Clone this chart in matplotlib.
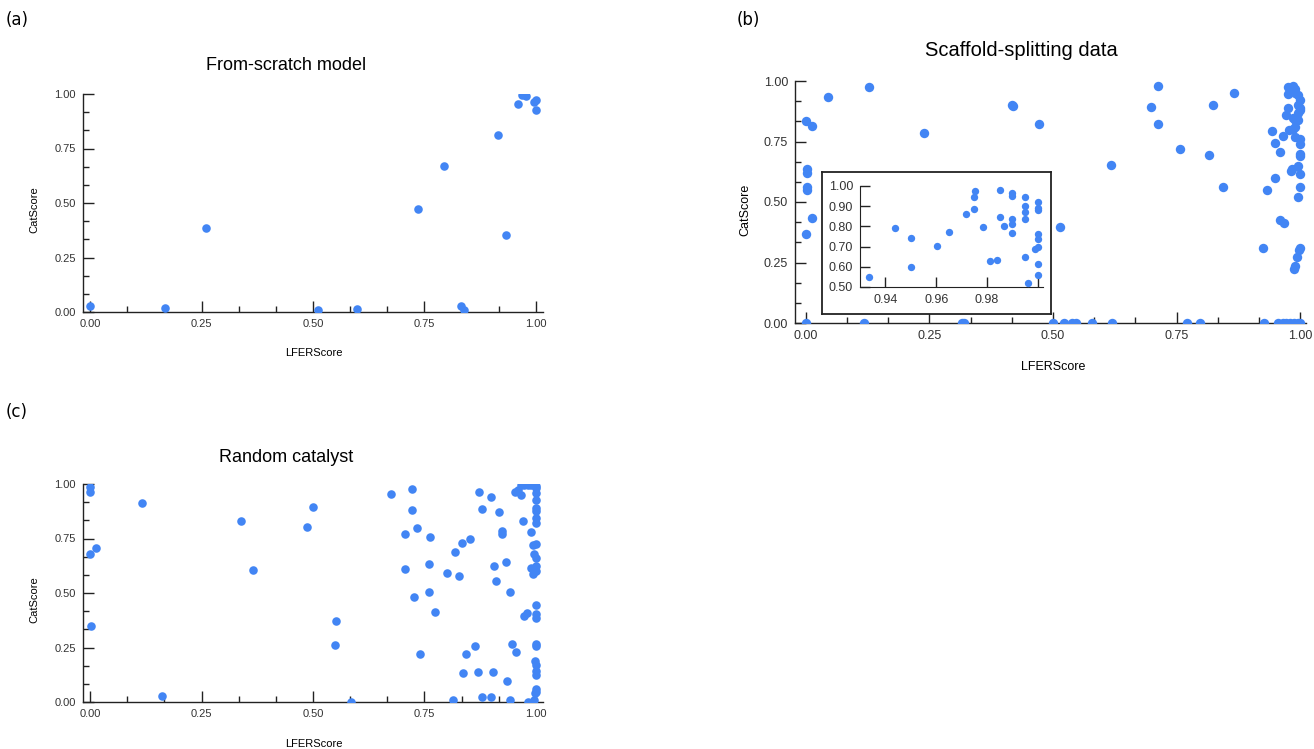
import numpy as np
import matplotlib
matplotlib.use("Agg")
import matplotlib.pyplot as plt
from matplotlib.ticker import MultipleLocator

W, H = 1314, 749
BLUE = "#4285f4"

# (a) From-scratch model
a_lfer = [0.0, 0.167, 0.259, 0.512, 0.599, 0.735, 0.795, 0.833, 0.839,
          0.915, 0.933, 0.961, 0.969, 0.977, 0.995, 1.0, 1.0]
a_cat = [0.029, 0.020, 0.385, 0.009, 0.012, 0.472, 0.671, 0.028, 0.011,
         0.813, 0.353, 0.956, 0.995, 0.990, 0.963, 0.974, 0.927]

# (b) Scaffold-splitting data, points inside the zoomed window
b_zoom_lfer = [0.9336, 0.9437, 0.9501, 0.9501, 0.9603, 0.965, 0.9716, 0.9749,
               0.975, 0.9753, 0.9783, 0.981, 0.9838, 0.985, 0.985, 0.9865,
               0.9897, 0.9898, 0.9898, 0.9898, 0.9897, 0.995, 0.995, 0.995,
               0.995, 0.995, 0.996, 0.999, 1.0, 1.0, 1.0, 1.0, 1.0, 1.0, 1.0, 1.0]
b_zoom_cat = [0.551, 0.793, 0.745, 0.599, 0.705, 0.773, 0.861, 0.887,
              0.947, 0.977, 0.796, 0.629, 0.636, 0.980, 0.848, 0.803,
              0.967, 0.950, 0.838, 0.810, 0.768, 0.944, 0.902, 0.869,
              0.839, 0.649, 0.521, 0.690, 0.922, 0.889, 0.881, 0.762, 0.740,
              0.699, 0.616, 0.561]
# (b) remaining points
b_rest_lfer = [0.0, 0.013, 0.0015, 0.0015, 0.0015, 0.0015, 0.013, 0.0, 0.0,
               0.045, 0.127, 0.118, 0.239, 0.316, 0.320, 0.420, 0.418, 0.471,
               0.501, 0.514, 0.522, 0.539, 0.546, 0.578, 0.619, 0.617, 0.698,
               0.712, 0.712, 0.758, 0.772, 0.798, 0.815, 0.824, 0.845, 0.866,
               0.926, 0.928, 0.960, 0.968, 1.0, 0.998, 0.994, 0.990, 0.987,
               0.955, 0.965, 0.972, 0.980, 0.987, 0.995, 1.0]
b_rest_cat = [0.836, 0.814, 0.636, 0.619, 0.560, 0.550, 0.432, 0.367, 0.0,
              0.933, 0.975, 0.0, 0.787, 0.0, 0.0, 0.897, 0.900, 0.823,
              0.0, 0.395, 0.0, 0.0, 0.0, 0.0, 0.0, 0.651, 0.894,
              0.979, 0.823, 0.721, 0.0, 0.0, 0.693, 0.901, 0.563, 0.950,
              0.309, 0.0, 0.424, 0.415, 0.309, 0.301, 0.271, 0.234, 0.223,
              0.0, 0.0, 0.0, 0.0, 0.0, 0.0, 0.0]

# (c) Random catalyst
c_lfer = [0.0, 0.0, 0.0, 0.014, 0.003, 0.117, 0.161, 0.339, 0.365, 0.486,
          0.501, 0.549, 0.552, 0.586, 0.674, 0.707, 0.707, 0.722, 0.721, 0.733,
          0.726, 0.740, 0.763, 0.760, 0.760, 0.774, 0.800, 0.815, 0.819, 0.828,
          0.835, 0.836, 0.844, 0.853, 0.863, 0.871, 0.873, 0.879, 0.880, 0.899,
          0.900, 0.903, 0.906, 0.911, 0.918, 0.923, 0.923, 0.934, 0.935, 0.942,
          0.943, 0.946, 0.955, 0.953, 0.959, 0.966, 0.972, 0.974, 0.981, 0.983,
          0.990, 0.990, 0.994, 0.994, 0.996, 0.996, 0.998, 0.998,
          1.0, 1.0, 1.0, 1.0, 1.0, 1.0, 1.0, 1.0, 1.0, 1.0,
          1.0, 1.0, 1.0, 1.0, 1.0, 1.0, 1.0, 1.0, 1.0,
          1.0, 1.0, 1.0,
          0.966, 0.974, 0.982, 0.990, 0.996]
c_cat = [0.986, 0.963, 0.680, 0.708, 0.349, 0.913, 0.029, 0.829, 0.606, 0.801,
         0.894, 0.261, 0.373, 0.0, 0.956, 0.771, 0.610, 0.977, 0.881, 0.800,
         0.480, 0.220, 0.757, 0.635, 0.503, 0.414, 0.593, 0.009, 0.687, 0.580,
         0.728, 0.131, 0.219, 0.748, 0.258, 0.139, 0.962, 0.885, 0.024, 0.024,
         0.942, 0.138, 0.622, 0.554, 0.870, 0.786, 0.771, 0.641, 0.095, 0.505,
         0.009, 0.265, 0.229, 0.962, 0.974, 0.951, 0.832, 0.393, 0.408, 0.0,
         0.781, 0.615, 0.719, 0.589, 0.679, 0.008, 0.188, 0.041,
         0.992, 0.982, 0.959, 0.928, 0.890, 0.875, 0.844, 0.821, 0.726, 0.661,
         0.622, 0.599, 0.443, 0.404, 0.384, 0.266, 0.258, 0.171, 0.141,
         0.125, 0.060, 0.046,
         0.995, 0.995, 0.995, 0.995, 0.995]


def px_axes(fig, x0, x1, y0, y1):
    return fig.add_axes([x0 / W, 1 - y1 / H, (x1 - x0) / W, (y1 - y0) / H])


def fig_text(fig, x, y, s, **kw):
    fig.text(x / W, 1 - y / H, s, ha="center", va="center", **kw)


def style_axes(ax, xlim, major, minor, fs=8):
    for side in ("top", "right"):
        ax.spines[side].set_visible(False)
    for side in ("left", "bottom"):
        ax.spines[side].set_color("#222222")
        ax.spines[side].set_linewidth(1.0)
    ax.set_xlim(*xlim)
    ax.set_ylim(0, 1)
    ax.xaxis.set_major_locator(MultipleLocator(major))
    ax.yaxis.set_major_locator(MultipleLocator(major))
    ax.xaxis.set_minor_locator(MultipleLocator(minor))
    ax.yaxis.set_minor_locator(MultipleLocator(minor))
    ax.xaxis.set_major_formatter("{x:.2f}")
    ax.yaxis.set_major_formatter("{x:.2f}")
    ax.tick_params(which="major", direction="in", length=8, width=1.0,
                   color="#222222", labelsize=fs, labelcolor="#333333", pad=5)
    ax.tick_params(which="minor", direction="in", length=4.5, width=1.0,
                   color="#222222")
    ax.patch.set_visible(False)


plt.rcParams["font.family"] = ["Liberation Sans", "DejaVu Sans"]
fig = plt.figure(figsize=(W / 100, H / 100), dpi=100)

# panel (a)
ax_a = px_axes(fig, 83, 543, 94, 312)
ax_a.scatter(a_lfer, a_cat, s=38, color=BLUE, linewidths=0, zorder=3)
style_axes(ax_a, (-0.016, 1.016), 0.25, 1 / 12)
fig_text(fig, 286, 66, "From-scratch model", fontsize=13)
fig_text(fig, 314, 353, "LFERScore", fontsize=8)
fig_text(fig, 34, 210, "CatScore", fontsize=8, rotation=90)
fig_text(fig, 17, 20, "(a)", fontsize=12, family="DejaVu Sans")

# panel (b)
ax_b = px_axes(fig, 795, 1306, 81, 323)
ax_b.scatter(b_rest_lfer + b_zoom_lfer, b_rest_cat + b_zoom_cat, s=46,
             color=BLUE, linewidths=0, zorder=3)
style_axes(ax_b, (-0.022, 1.012), 0.25, 1 / 12, fs=9)
fig_text(fig, 1021, 50, "Scaffold-splitting data", fontsize=14.5)
fig_text(fig, 1053, 367, "LFERScore", fontsize=9)
fig_text(fig, 745, 210, "CatScore", fontsize=9, rotation=90)
fig_text(fig, 748, 20, "(b)", fontsize=12, family="DejaVu Sans")

# inset frame and zoomed axes
frame = px_axes(fig, 822, 1051, 172, 314)
frame.set_xticks([])
frame.set_yticks([])
frame.set_facecolor("white")
for sp in frame.spines.values():
    sp.set_linewidth(1.3)
    sp.set_color("#222222")

ax_in = px_axes(fig, 860, 1043, 186, 287)
ax_in.scatter(b_zoom_lfer, b_zoom_cat, s=28, color=BLUE, linewidths=0,
              zorder=3)
for side in ("top", "right"):
    ax_in.spines[side].set_visible(False)
for side in ("left", "bottom"):
    ax_in.spines[side].set_color("#222222")
ax_in.set_xlim(0.93, 1.002)
ax_in.set_ylim(0.5, 1.0)
ax_in.set_xticks([0.94, 0.96, 0.98, 1.0])
ax_in.set_xticklabels(["0.94", "0.96", "0.98", ""])
ax_in.set_yticks(np.arange(0.5, 1.01, 0.1))
ax_in.yaxis.set_major_formatter("{x:.2f}")
ax_in.tick_params(direction="in", length=7, width=1.0, color="#222222",
                  labelsize=9, labelcolor="#333333", pad=5)
ax_in.patch.set_visible(False)

# panel (c)
ax_c = px_axes(fig, 83, 543, 484, 702)
ax_c.scatter(c_lfer, c_cat, s=38, color=BLUE, linewidths=0, zorder=3)
style_axes(ax_c, (-0.016, 1.016), 0.25, 1 / 12)
fig_text(fig, 286, 457, "Random catalyst", fontsize=13)
fig_text(fig, 314, 744, "LFERScore", fontsize=8)
fig_text(fig, 34, 600, "CatScore", fontsize=8, rotation=90)
fig_text(fig, 17, 412, "(c)", fontsize=12, family="DejaVu Sans")

fig.savefig("out.png", dpi=100)
